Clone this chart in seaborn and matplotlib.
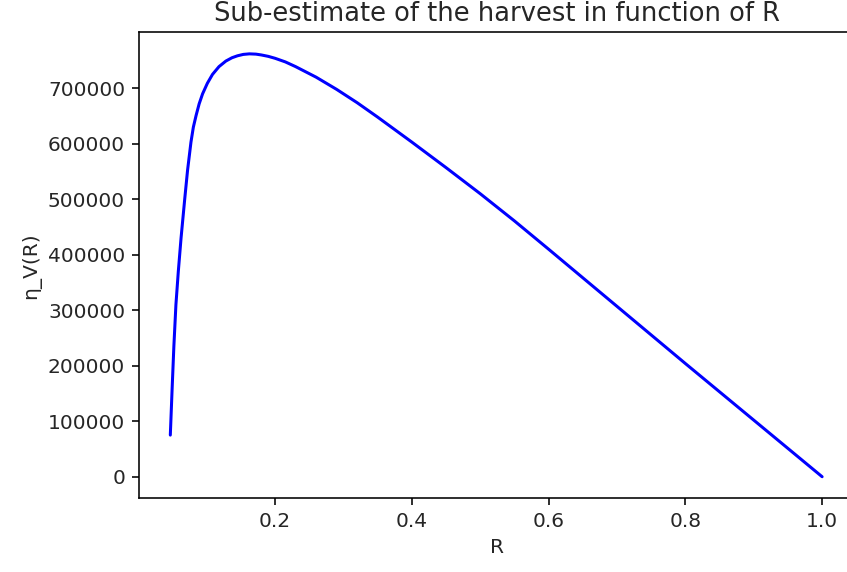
import numpy as np
import pandas as pd
import matplotlib
matplotlib.use("Agg")
import matplotlib.pyplot as plt
import seaborn as sns

# Values
R_values = [0.0468, 0.0495, 0.052, 0.055, 0.0585, 0.0625, 0.068, 0.072, 0.077,
            0.0805, 0.0845, 0.089, 0.094, 0.101, 0.1085, 0.118, 0.128, 0.137,
            0.145, 0.1535, 0.1625, 0.172, 0.18, 0.19, 0.2, 0.215, 0.23, 0.26,
            0.29, 0.32, 0.35, 0.4, 0.45, 0.5, 0.55, 0.6, 0.7, 0.8, 0.9, 1.0]
V_values = [75000, 160000, 235000, 310000, 370000, 430000, 502000, 552000, 603000,
            630000, 651000, 672000, 690000, 709000, 725000, 739000, 749000, 755000,
            758500, 761000, 762000, 761500, 760000, 757500, 754000, 747500, 739000, 720000,
            698000, 674000, 648000, 603000, 557000, 510000, 461000, 410000, 307000, 204000,
            102000, 0]

title_text = "Sub-estimate of the harvest in function of R"
x_label = "R"
y_label = "η_V(R)"
x_ticks = [0.2, 0.4, 0.6, 0.8, 1.0]
y_ticks = [0, 100000, 200000, 300000, 400000, 500000, 600000, 700000]

sns.set_theme(style="ticks")
plt.rcParams['font.family'] = ['DejaVu Sans']
plt.rcParams.update({
    "axes.edgecolor": "black",
    "axes.linewidth": 1.15,
    "xtick.major.size": 5,
    "ytick.major.size": 5,
    "xtick.major.width": 1.15,
    "ytick.major.width": 1.15,
    "xtick.major.pad": 5,
    "ytick.major.pad": 5,
    "xtick.color": "black",
    "ytick.color": "black",
    "xtick.labelcolor": "#262626",
    "ytick.labelcolor": "#262626",
    "axes.labelcolor": "#262626",
})

df = pd.DataFrame({"R": R_values, "V": V_values})

fig = plt.figure(figsize=(8.47, 5.72), dpi=100)
ax = fig.add_axes([0.1641, 0.1288, 0.8453, 0.8144])
sns.lineplot(data=df, x="R", y="V", ax=ax, color="blue", linewidth=2.18,
             sort=False, estimator=None)

ax.set_xlim(0.001, 1.048)
ax.set_ylim(-38900, 800500)
ax.set_xticks(x_ticks)
ax.set_xticklabels([f"{t:.1f}" for t in x_ticks])
ax.set_yticks(y_ticks)
ax.set_yticklabels([str(v) for v in y_ticks])
ax.tick_params(labelsize=14.5)
ax.set_xlabel(x_label, fontsize=14.5, labelpad=5)
ax.set_ylabel(y_label, fontsize=14.5, labelpad=5)
ax.set_title(title_text, fontsize=18.5, pad=8)
for name, s in ax.spines.items():
    s.set_visible(name != "right")
    s.set_color("black")

fig.savefig("out.png", dpi=100)
